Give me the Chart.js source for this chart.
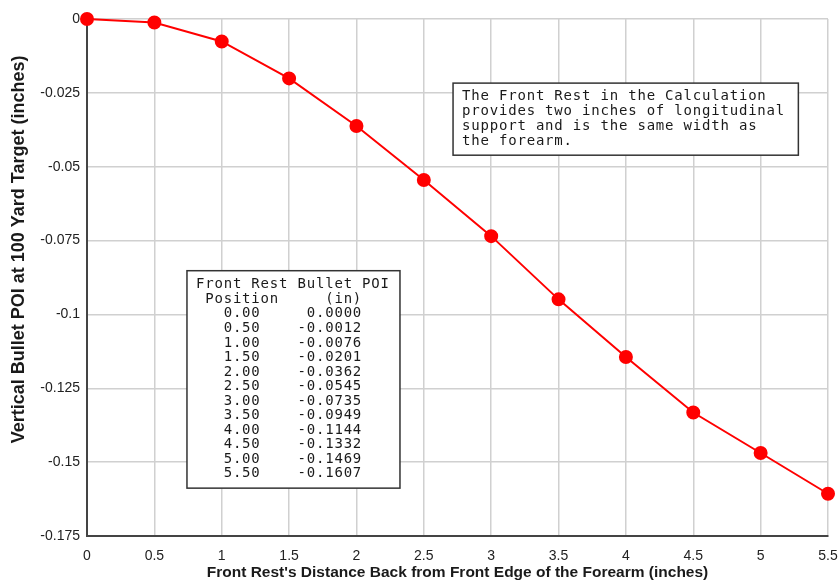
<!DOCTYPE html>
<html>
<head>
<meta charset="utf-8">
<script src="https://cdn.jsdelivr.net/npm/chart.js@4/dist/chart.umd.min.js"></script>
<style>
  html, body { margin: 0; padding: 0; background: #fff; }
  #c { display: block; }
</style>
</head>
<body>
<canvas id="c" width="839" height="581"></canvas>
<script>
// ---- Data ----
const positions = [0.00, 0.50, 1.00, 1.50, 2.00, 2.50, 3.00, 3.50, 4.00, 4.50, 5.00, 5.50];
const bulletPOI = [0.0000, -0.0012, -0.0076, -0.0201, -0.0362, -0.0545, -0.0735, -0.0949, -0.1144, -0.1332, -0.1469, -0.1607];
const noteLines = [
  "The Front Rest in the Calculation",
  "provides two inches of longitudinal",
  "support and is the same width as",
  "the forearm."
];
const tableHeader = ["Front Rest Bullet POI", " Position     (in)"];
const xTitle = "Front Rest's Distance Back from Front Edge of the Forearm (inches)";
const yTitle = "Vertical Bullet POI at 100 Yard Target (inches)";

const tableLines = tableHeader.concat(positions.map((p, i) =>
  "   " + p.toFixed(2) + "    " + bulletPOI[i].toFixed(4).padStart(7)));

const SANS = "'Liberation Sans', Arial, sans-serif";
const MONO = "14px 'DejaVu Sans Mono', 'Liberation Mono', monospace";

function drawTextBox(ctx, lines, x, y, w, h, padX, firstY, lineH) {
  ctx.save();
  ctx.fillStyle = "#ffffff";
  ctx.fillRect(x, y, w, h);
  ctx.strokeStyle = "#333333";
  ctx.lineWidth = 1.5;
  ctx.strokeRect(x, y, w, h);
  ctx.font = MONO;
  ctx.letterSpacing = "0.8px";
  ctx.fillStyle = "#1a1a1a";
  ctx.textBaseline = "middle";
  ctx.textAlign = "left";
  lines.forEach((ln, i) => ctx.fillText(ln, x + padX, y + firstY + i * lineH));
  ctx.restore();
}

const boxesPlugin = {
  id: "boxes",
  afterDatasetsDraw(chart) {
    const ctx = chart.ctx;
    const xs = chart.scales.x, ys = chart.scales.y;
    // Note box (anchored in data coordinates)
    const n1 = xs.getPixelForValue(2.717), n2 = xs.getPixelForValue(5.28);
    const t1 = ys.getPixelForValue(-0.0217), b1 = ys.getPixelForValue(-0.0461);
    drawTextBox(ctx, noteLines, n1, t1, n2 - n1, b1 - t1, 9, 13.5, 14.8);
    // Table box
    const l2 = xs.getPixelForValue(0.742), r2 = xs.getPixelForValue(2.323);
    const t2 = ys.getPixelForValue(-0.0852), b2 = ys.getPixelForValue(-0.1588);
    drawTextBox(ctx, tableLines, l2, t2, r2 - l2, b2 - t2, 9, 14, 14.55);
  },
  afterDraw(chart) {
    // Y axis title
    const ctx = chart.ctx;
    ctx.save();
    ctx.translate(19, chart.scales.y.getPixelForValue(-0.078));
    ctx.rotate(-Math.PI / 2);
    ctx.font = "bold 18px " + SANS;
    ctx.fillStyle = "#1a1a1a";
    ctx.textAlign = "center";
    ctx.textBaseline = "middle";
    ctx.fillText(yTitle, 0, 0);
    ctx.restore();
  }
};

const fmt = v => { const s = Number(v.toFixed(4)).toString(); return s === "-0" ? "0" : s; };

new Chart(document.getElementById("c"), {
  type: "line",
  data: {
    datasets: [{
      data: positions.map((p, i) => ({ x: p, y: bulletPOI[i] })),
      borderColor: "#ff0000",
      backgroundColor: "#ff0000",
      borderWidth: 2,
      pointRadius: 6,
      pointHoverRadius: 6,
      pointBackgroundColor: "#ff0000",
      pointBorderColor: "#ff0000",
      tension: 0,
      clip: false
    }]
  },
  options: {
    responsive: false,
    animation: false,
    events: [],
    layout: { padding: { top: 19, right: 11, left: 4, bottom: 0 } },
    plugins: { legend: { display: false }, tooltip: { enabled: false } },
    scales: {
      x: {
        type: "linear",
        min: 0, max: 5.5,
        ticks: { stepSize: 0.5, callback: fmt, color: "#222", font: { family: SANS, size: 14 }, padding: 12, maxRotation: 0 },
        grid: { color: "#d0d0d0", lineWidth: 1.5, drawTicks: false },
        border: { color: "#444", width: 2 },
        title: { display: true, text: xTitle, color: "#1a1a1a", font: { family: SANS, size: 15.5, weight: "bold" }, padding: { top: 0, bottom: -1.5 } },
        afterFit(s) { s.height = 45; s.paddingLeft = 0; s.paddingRight = 0; }
      },
      y: {
        type: "linear",
        min: -0.175, max: 0,
        ticks: { stepSize: 0.025, callback: fmt, color: "#222", font: { family: SANS, size: 14 }, padding: 7 },
        grid: { color: "#d0d0d0", lineWidth: 1.5, drawTicks: false },
        border: { color: "#444", width: 2 },
        title: { display: false },
        afterFit(s) { s.width = 83; s.paddingTop = 0; s.paddingBottom = 0; }
      }
    }
  },
  plugins: [boxesPlugin]
});
</script>
</body>
</html>
